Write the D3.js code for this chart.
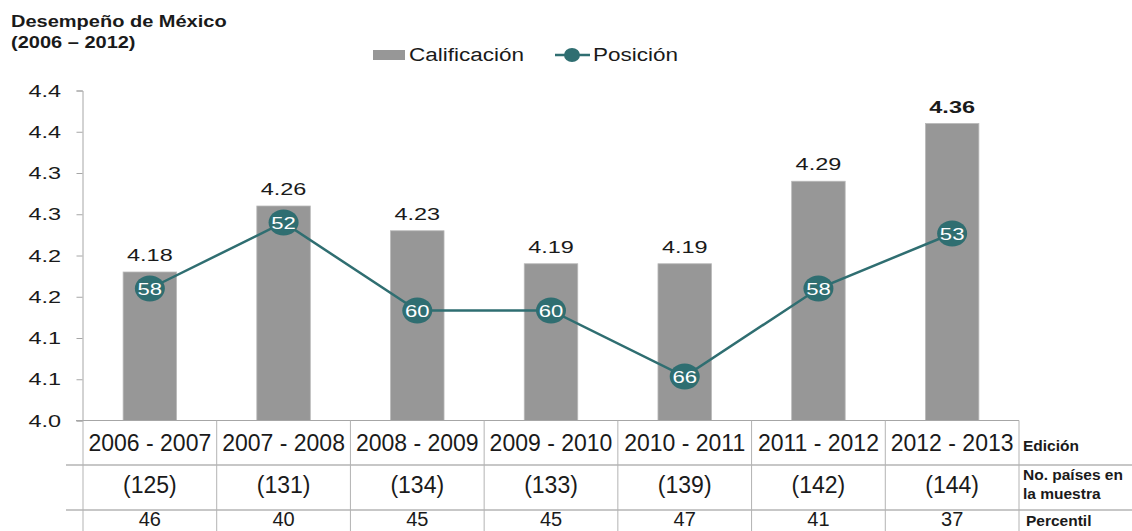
<!DOCTYPE html>
<html lang="es">
  <head>
    <meta charset="UTF-8" />
    <title>Desempeño de México</title>
    <script src="https://d3js.org/d3.v7.min.js"></script>
    <style>
      body {
        margin: 0;
        background: #fff;
        font-family: "Liberation Sans", Arial, sans-serif;
      }
      svg {
        display: block;
      }
    </style>
  </head>
  <body>
    <svg id="chart" width="1132" height="531"></svg>

    <script>
      // data
      const ediciones = [
        "2006 - 2007",
        "2007 - 2008",
        "2008 - 2009",
        "2009 - 2010",
        "2010 - 2011",
        "2011 - 2012",
        "2012 - 2013",
      ];
      const calificacion = [4.18, 4.26, 4.23, 4.19, 4.19, 4.29, 4.36];
      const posicion = [58, 52, 60, 60, 66, 58, 53];
      const paises = [125, 131, 134, 133, 139, 142, 144];
      const percentil = [46, 40, 45, 45, 47, 41, 37];
      const yTicks = [4.0, 4.05, 4.1, 4.15, 4.2, 4.25, 4.3, 4.35, 4.4];
      const yTickLabels = ["4.0", "4.1", "4.1", "4.2", "4.2", "4.3", "4.3", "4.4", "4.4"];

      const SX = 1.33; // the chart part of the picture is stretched sideways
      const barColor = "#979797";
      const lineColor = "#2f6e71";

      const svg = d3.select("#chart");

      // text that is widened like the original picture
      function wideText(g, x, y, str, size, opts = {}) {
        return g
          .append("text")
          .attr("transform", `translate(${x},${y}) scale(${opts.sx || SX},1)`)
          .attr("text-anchor", opts.anchor || "start")
          .attr("font-size", size)
          .attr("font-weight", opts.bold ? "bold" : "normal")
          .attr("fill", opts.fill || "#1a1a1a")
          .text(str);
      }

      const plotLeft = 83,
        plotRight = 1019,
        plotTop = 90.5,
        plotBottom = 420.5;

      const x = d3
        .scaleBand()
        .domain(ediciones)
        .range([plotLeft, plotRight])
        .paddingInner(0.6)
        .paddingOuter(0.3);
      const xCell = d3.scaleBand().domain(ediciones).range([plotLeft, plotRight]);
      const y = d3.scaleLinear().domain([4.0, 4.4]).range([plotBottom, plotTop]);
      // hidden secondary axis for the ranking, small numbers on top
      const y2 = d3.scaleLinear().domain([40, 70]).range([plotTop, plotBottom]);

      // title
      wideText(svg, 11, 27, "Desempeño de México", 16, { bold: true, sx: 1.25 });
      wideText(svg, 11, 48, "(2006 – 2012)", 16, { bold: true, sx: 1.25 });

      // legend
      const legend = svg.append("g");
      legend
        .append("rect")
        .attr("x", 373)
        .attr("y", 50)
        .attr("width", 32)
        .attr("height", 10)
        .attr("fill", barColor);
      wideText(legend, 409, 61, "Calificación", 18, { sx: 1.25 });
      legend
        .append("line")
        .attr("x1", 555)
        .attr("x2", 590)
        .attr("y1", 55)
        .attr("y2", 55)
        .attr("stroke", lineColor)
        .attr("stroke-width", 2.5);
      legend
        .append("ellipse")
        .attr("cx", 572)
        .attr("cy", 55)
        .attr("rx", 8)
        .attr("ry", 7)
        .attr("fill", lineColor);
      wideText(legend, 593, 61, "Posición", 18, { sx: 1.25 });

      // y axis
      const yAxis = svg
        .append("g")
        .attr("transform", `translate(${plotLeft - 0.5},0)`)
        .call(
          d3
            .axisLeft(y)
            .tickValues(yTicks)
            .tickSize(6)
            .tickFormat((d, i) => yTickLabels[i])
        );
      yAxis.select(".domain").attr("stroke", "#a6a6a6");
      yAxis.selectAll(".tick line").attr("stroke", "#a6a6a6");
      yAxis.selectAll(".tick text").remove();
      yTicks.forEach((t, i) => {
        wideText(svg, 61, y(t) + 6, yTickLabels[i], 17, { anchor: "end", sx: 1.38 });
      });

      // bars
      svg
        .append("g")
        .selectAll("rect")
        .data(calificacion)
        .join("rect")
        .attr("x", (d, i) => x(ediciones[i]))
        .attr("y", (d) => y(d))
        .attr("width", x.bandwidth())
        .attr("height", (d) => plotBottom - y(d))
        .attr("fill", barColor)
        .attr("stroke", "#b9b9b9")
        .attr("stroke-width", 0.8);

      const barLabels = svg.append("g");
      calificacion.forEach((v, i) => {
        wideText(
          barLabels,
          x(ediciones[i]) + x.bandwidth() / 2,
          y(v) - 11,
          v.toFixed(2),
          17,
          { anchor: "middle", bold: i === calificacion.length - 1, sx: 1.38 }
        );
      });

      // bottom axis / table
      const grid = svg.append("g");
      grid
        .append("line")
        .attr("x1", plotLeft - 7)
        .attr("x2", plotRight)
        .attr("y1", plotBottom)
        .attr("y2", plotBottom)
        .attr("stroke", "#a6a6a6");
      [465, 510].forEach((yy) => {
        grid
          .append("line")
          .attr("x1", 66)
          .attr("x2", 1132)
          .attr("y1", yy)
          .attr("y2", yy)
          .attr("stroke", "#8f8f8f")
          .attr("stroke-width", 1.2);
      });
      d3.range(ediciones.length + 1).forEach((i) => {
        const xx = plotLeft + i * xCell.step();
        grid
          .append("line")
          .attr("x1", xx)
          .attr("x2", xx)
          .attr("y1", plotBottom)
          .attr("y2", 531)
          .attr("stroke", "#b3b3b3");
      });

      const table = svg
        .append("g")
        .attr("font-size", 23)
        .attr("fill", "#1a1a1a")
        .attr("text-anchor", "middle");
      ediciones.forEach((e, i) => {
        const cx = xCell(e) + xCell.bandwidth() / 2;
        table.append("text").attr("x", cx).attr("y", 451).text(e);
        table.append("text").attr("x", cx).attr("y", 493).text(`(${paises[i]})`);
        table
          .append("text")
          .attr("x", cx)
          .attr("y", 526)
          .attr("font-size", 20)
          .text(percentil[i]);
      });

      const rowNames = svg
        .append("g")
        .attr("font-size", 15.5)
        .attr("font-weight", "bold")
        .attr("fill", "#1a1a1a");
      rowNames.append("text").attr("x", 1023).attr("y", 451).text("Edición");
      rowNames.append("text").attr("x", 1023).attr("y", 480).text("No. países en");
      rowNames.append("text").attr("x", 1023).attr("y", 499).text("la muestra");
      rowNames.append("text").attr("x", 1026).attr("y", 526).text("Percentil");

      // ranking line
      const line = d3
        .line()
        .x((d, i) => x(ediciones[i]) + x.bandwidth() / 2)
        .y((d) => y2(d));
      svg
        .append("path")
        .datum(posicion)
        .attr("d", line)
        .attr("fill", "none")
        .attr("stroke", lineColor)
        .attr("stroke-width", 2.5);

      const pts = svg.append("g");
      posicion.forEach((p, i) => {
        const cx = x(ediciones[i]) + x.bandwidth() / 2;
        pts
          .append("ellipse")
          .attr("cx", cx)
          .attr("cy", y2(p))
          .attr("rx", 15)
          .attr("ry", 13)
          .attr("fill", lineColor);
        wideText(pts, cx, y2(p) + 6.5, p, 17, { anchor: "middle", fill: "#fff", sx: 1.3 });
      });
    </script>
  </body>
</html>
